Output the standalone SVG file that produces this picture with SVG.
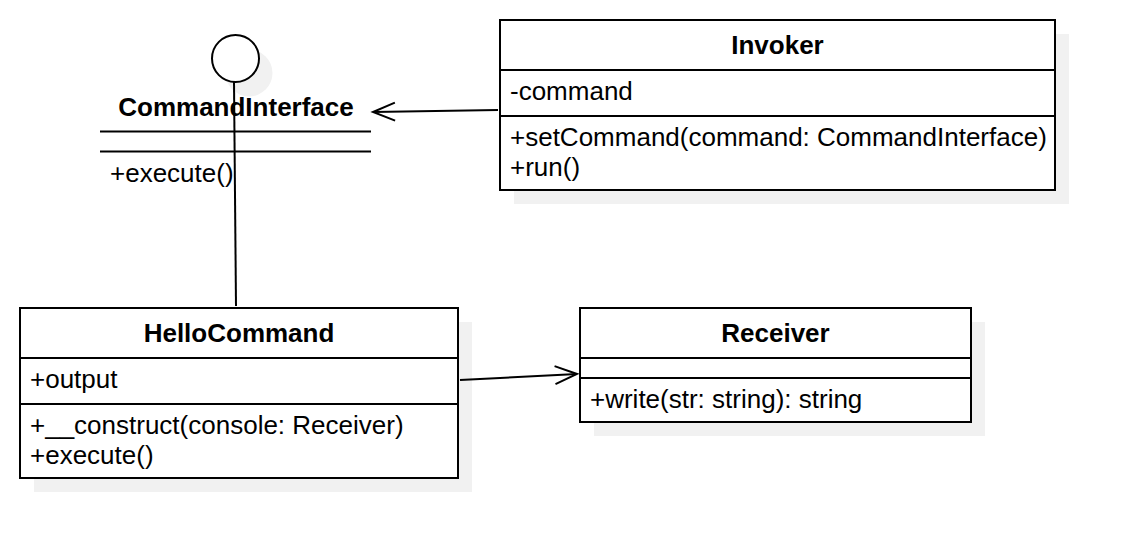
<svg xmlns="http://www.w3.org/2000/svg" width="1134" height="558" viewBox="0 0 1134 558">
<defs>
<style>
.box{fill:#fff;stroke:#000;stroke-width:2}
.sh{fill:#f1f1f1}
.ln{stroke:#000;stroke-width:2;fill:none}
.t{font-family:"Liberation Sans",Arial,sans-serif;font-size:26px;fill:#000}
.b{font-weight:bold;text-anchor:middle}
</style>
<marker id="open" markerWidth="30" markerHeight="24" refX="23" refY="12" orient="auto" markerUnits="userSpaceOnUse">
<path d="M1,3 L23,12 L1,21" fill="none" stroke="#000" stroke-width="2"/>
</marker>
</defs>
<rect width="1134" height="558" fill="#fff"/>
<g id="CommandInterface">
<circle cx="249" cy="73" r="23.5" class="sh"/>
<circle cx="235.5" cy="58.5" r="23.5" fill="#fff" stroke="#000" stroke-width="2"/>
<text class="t b" x="236" y="116">CommandInterface</text>
<line class="ln" x1="100" y1="131.5" x2="371" y2="131.5"/>
<line class="ln" x1="100" y1="151.5" x2="371" y2="151.5"/>
<text class="t" x="110" y="182">+execute()</text>
</g>
<g id="Invoker">
<rect class="sh" x="514" y="34" width="555" height="170"/>
<rect class="box" x="500" y="20" width="555" height="170"/>
<line class="ln" x1="500" y1="70" x2="1055" y2="70"/>
<line class="ln" x1="500" y1="116" x2="1055" y2="116"/>
<text class="t b" x="777.5" y="54">Invoker</text>
<text class="t" x="510" y="100">-command</text>
<text class="t" x="510" y="146">+setCommand(command: CommandInterface)</text>
<text class="t" x="510" y="176">+run()</text>
</g>
<g id="HelloCommand">
<rect class="sh" x="34" y="322" width="438" height="170"/>
<rect class="box" x="20" y="308" width="438" height="170"/>
<line class="ln" x1="20" y1="358" x2="458" y2="358"/>
<line class="ln" x1="20" y1="404" x2="458" y2="404"/>
<text class="t b" x="239" y="342">HelloCommand</text>
<text class="t" x="30" y="388">+output</text>
<text class="t" x="30" y="434">+__construct(console: Receiver)</text>
<text class="t" x="30" y="464">+execute()</text>
</g>
<g id="Receiver">
<rect class="sh" x="594" y="322" width="391" height="114"/>
<rect class="box" x="580" y="308" width="391" height="114"/>
<line class="ln" x1="580" y1="358" x2="971" y2="358"/>
<line class="ln" x1="580" y1="378" x2="971" y2="378"/>
<text class="t b" x="775.5" y="342">Receiver</text>
<text class="t" x="590" y="408">+write(str: string): string</text>
</g>
<g id="connectors">
<line class="ln" x1="234" y1="82" x2="236" y2="306"/>
<line class="ln" x1="498" y1="110" x2="373" y2="112" marker-end="url(#open)"/>
<line class="ln" x1="460" y1="380" x2="577" y2="374" marker-end="url(#open)"/>
</g>
</svg>
